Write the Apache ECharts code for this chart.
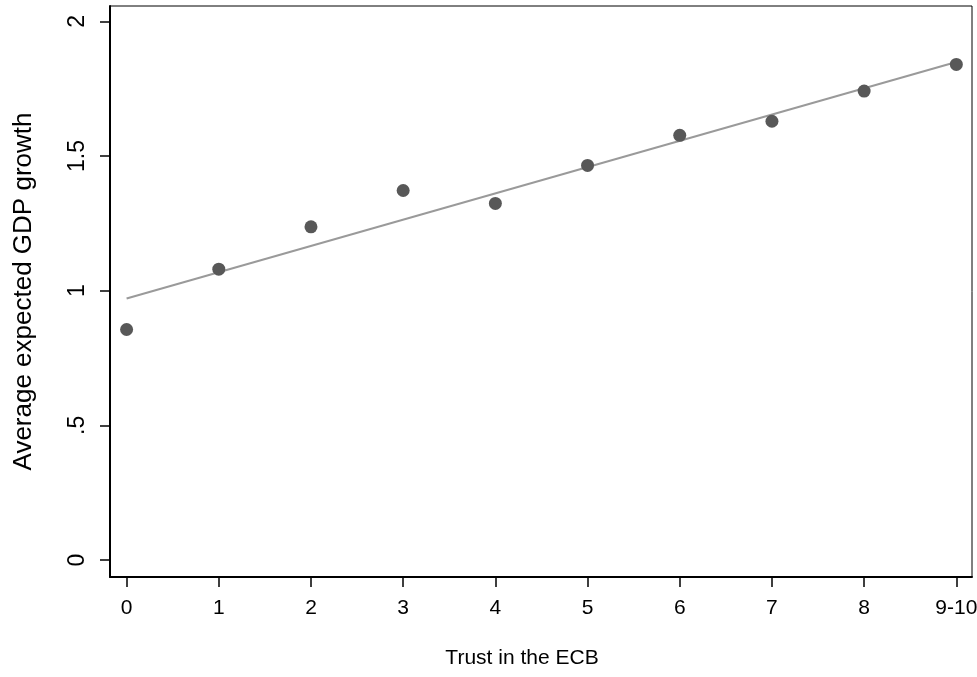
<!DOCTYPE html>
<html>
<head>
<meta charset="utf-8">
<script src="https://cdn.jsdelivr.net/npm/echarts@6/dist/echarts.min.js"></script>
<style>
html,body{margin:0;padding:0;background:#fff;}
#chart{width:977px;height:677px;}
</style>
</head>
<body>
<div id="chart"></div>
<script>
const categories = ['0','1','2','3','4','5','6','7','8','9-10'];
const avgGrowth = [0.856, 1.080, 1.237, 1.372, 1.324, 1.465, 1.577, 1.629, 1.741, 1.840];
const fitEnds = [0.971, 1.849];
const yTicks = [0, 0.5, 1, 1.5, 2];
const yTickLabels = ['0', '.5', '1', '1.5', '2'];

const xIdx = categories.map((c, i) => i);
const scatterData = avgGrowth.map((v, i) => [xIdx[i], v]);
const lineData = [[xIdx[0], fitEnds[0]], [xIdx[xIdx.length - 1], fitEnds[1]]];

const regular = '"Liberation Sans", Arial, sans-serif';

const chart = echarts.init(document.getElementById('chart'), null, {renderer: 'canvas'});
chart.setOption({
  animation: false,
  backgroundColor: '#ffffff',
  grid: {left: 110, right: 5, top: 6, bottom: 100, show: true, borderColor: '#000', borderWidth: 1,
    containLabel: false, outerBoundsMode: 'none'},
  xAxis: {
    type: 'value', min: -0.18, max: 9.17,
    name: 'Trust in the ECB', nameLocation: 'middle', nameGap: 71,
    nameTextStyle: {fontFamily: regular, fontSize: 21, color: '#000', padding: [0, 38, 0, 0]},
    axisLine: {show: true, onZero: false, lineStyle: {color: '#000', width: 2}},
    axisTick: {show: true, length: 10, customValues: xIdx, lineStyle: {color: '#000', width: 1.5}},
    axisLabel: {customValues: xIdx, margin: 21, fontFamily: regular, fontSize: 21, color: '#000',
      formatter: v => categories[Math.round(v)]},
    splitLine: {show: false}
  },
  yAxis: {
    type: 'value', min: -0.063, max: 2.057,
    name: 'Average expected GDP growth', nameLocation: 'middle', nameGap: 73, nameRotate: 90,
    nameTextStyle: {fontFamily: regular, fontSize: 26, color: '#000'},
    axisLine: {show: true, onZero: false, lineStyle: {color: '#000', width: 2}},
    axisTick: {show: true, length: 10, customValues: yTicks, lineStyle: {color: '#000', width: 1.5}},
    axisLabel: {customValues: yTicks, rotate: 90, margin: 21, fontFamily: regular, fontSize: 23, color: '#000',
      formatter: v => yTickLabels[yTicks.indexOf(v)] ?? ''},
    splitLine: {show: false}
  },
  series: [
    {type: 'line', data: lineData, symbol: 'none', lineStyle: {color: '#9a9a9a', width: 2}, z: 2, silent: true},
    {type: 'scatter', data: scatterData, symbol: 'circle', symbolSize: 13, itemStyle: {color: '#585858', opacity: 1}, z: 3}
  ]
});
</script>
</body>
</html>
